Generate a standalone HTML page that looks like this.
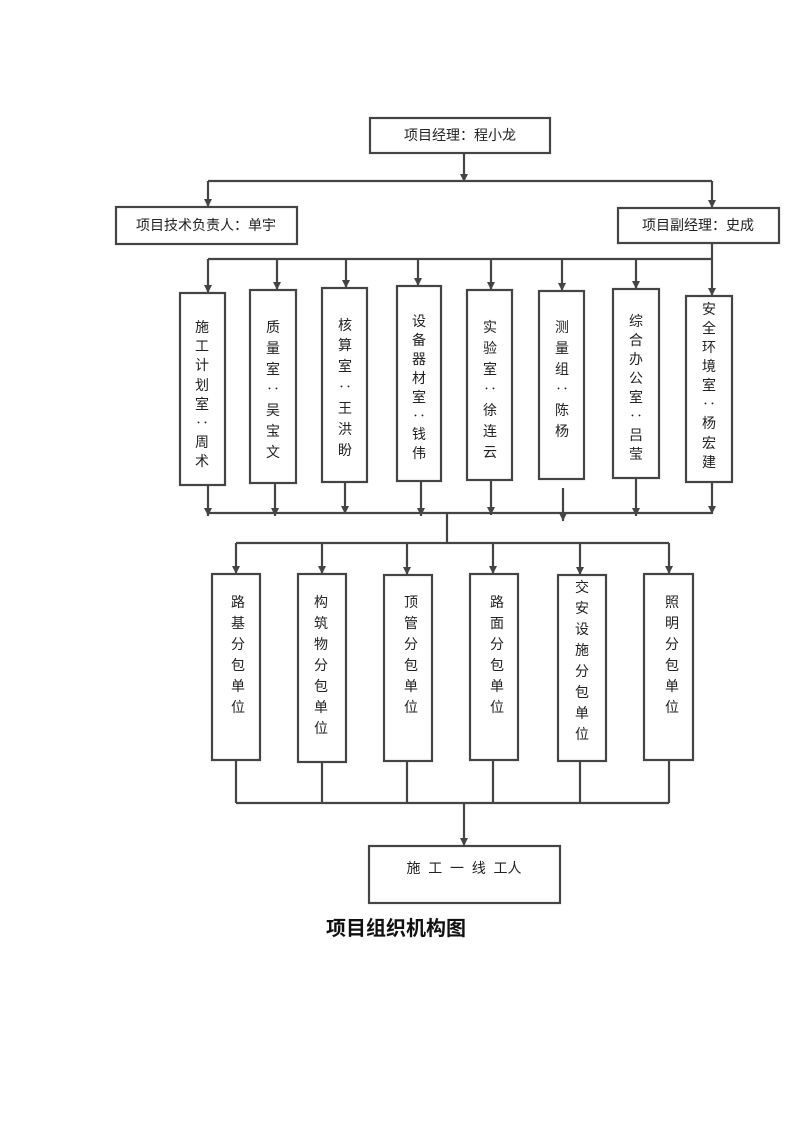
<!DOCTYPE html>
<html><head><meta charset="utf-8"><style>
html,body{margin:0;padding:0;background:#fff}
svg{display:block}
text{font-family:"Liberation Sans","Noto Sans CJK SC",sans-serif;font-size:14px;fill:#222}
.v{text-anchor:middle;dominant-baseline:middle}
</style></head><body>
<svg width="793" height="1122" viewBox="0 0 793 1122">
<defs><marker id="a" markerWidth="9" markerHeight="9" refX="8" refY="4" orient="auto" markerUnits="userSpaceOnUse"><path d="M0,0 L8,4 L0,8 Z" fill="#444"/></marker></defs>
<g stroke="#444" stroke-width="2.2" fill="none">
<rect x="370" y="118" width="180" height="35"/>
<rect x="116" y="207" width="181" height="37"/>
<rect x="618" y="208" width="161" height="35"/>
<rect x="180" y="293" width="45" height="192"/>
<rect x="250" y="290" width="46" height="193"/>
<rect x="322" y="288" width="45" height="194"/>
<rect x="397" y="286" width="44" height="195"/>
<rect x="467" y="290" width="45" height="190"/>
<rect x="539" y="291" width="45" height="188"/>
<rect x="613" y="289" width="46" height="189"/>
<rect x="686" y="296" width="46" height="186"/>
<rect x="212" y="574" width="48" height="186"/>
<rect x="298" y="574" width="48" height="188"/>
<rect x="384" y="575" width="48" height="186"/>
<rect x="470" y="574" width="48" height="186"/>
<rect x="558" y="575" width="48" height="186"/>
<rect x="644" y="574" width="49" height="186"/>
<rect x="369" y="846" width="191" height="57"/>
<path d="M208,181 H712 M208,259 H712 M208,513 H712 M236,543 H669 M236,803 H669"/>
<path d="M447,513 V543"/>
<path d="M236,760V803 M322,762V803 M407,761V803 M493,760V803 M580,761V803 M669,760V803"/>
</g>
<g stroke="#444" stroke-width="2.2" marker-end="url(#a)">
<path d="M464,153 V182"/>
<path d="M208,181 V207"/><path d="M712,181 V208"/>
<path d="M208,259 V293"/><path d="M277,259 V290"/><path d="M346,259 V288"/><path d="M418,259 V286"/>
<path d="M491,259 V290"/><path d="M562,259 V291"/><path d="M636,259 V289"/><path d="M712,244 V296"/>
<path d="M208,485 V516"/><path d="M275,483 V516"/><path d="M345,482 V514"/><path d="M421,481 V516"/>
<path d="M491,480 V515"/><path d="M563,488 V521"/><path d="M636,478 V516"/><path d="M712,482 V514"/>
<path d="M236,543 V574"/><path d="M322,543 V574"/><path d="M407,543 V575"/><path d="M493,543 V574"/><path d="M580,543 V575"/><path d="M669,543 V574"/>
<path d="M464,803 V846"/>
</g>
<text x="460" y="140" text-anchor="middle">项目经理：程小龙</text>
<text x="206" y="230" text-anchor="middle">项目技术负责人：单宇</text>
<text x="698" y="230" text-anchor="middle">项目副经理：史成</text>
<text x="464" y="873" text-anchor="middle" style="font-size:14px" xml:space="preserve">施  工  一  线  工人</text>
<text x="396" y="935" text-anchor="middle" style="font-size:20px;font-weight:bold;fill:#111">项目组织机构图</text>
<g class="v">
<text class="v" x="202"><tspan x="202" y="328">施</tspan><tspan x="202" y="347">工</tspan><tspan x="202" y="366">计</tspan><tspan x="202" y="386">划</tspan><tspan x="202" y="405">室</tspan><tspan x="202" y="424">‥</tspan><tspan x="202" y="443">周</tspan><tspan x="202" y="462">术</tspan></text>
<text class="v"><tspan x="273" y="328">质</tspan><tspan x="273" y="349">量</tspan><tspan x="273" y="370">室</tspan><tspan x="273" y="390">‥</tspan><tspan x="273" y="411">吴</tspan><tspan x="273" y="432">宝</tspan><tspan x="273" y="453">文</tspan></text>
<text class="v"><tspan x="345" y="326">核</tspan><tspan x="345" y="346">算</tspan><tspan x="345" y="367">室</tspan><tspan x="345" y="388">‥</tspan><tspan x="345" y="409">王</tspan><tspan x="345" y="430">洪</tspan><tspan x="345" y="451">盼</tspan></text>
<text class="v"><tspan x="419" y="322">设</tspan><tspan x="419" y="341">备</tspan><tspan x="419" y="360">器</tspan><tspan x="419" y="379">材</tspan><tspan x="419" y="398">室</tspan><tspan x="419" y="417">‥</tspan><tspan x="419" y="435">钱</tspan><tspan x="419" y="454">伟</tspan></text>
<text class="v"><tspan x="490" y="328">实</tspan><tspan x="490" y="349">验</tspan><tspan x="490" y="370">室</tspan><tspan x="490" y="390">‥</tspan><tspan x="490" y="411">徐</tspan><tspan x="490" y="432">连</tspan><tspan x="490" y="453">云</tspan></text>
<text class="v"><tspan x="562" y="328">测</tspan><tspan x="562" y="349">量</tspan><tspan x="562" y="370">组</tspan><tspan x="562" y="390">‥</tspan><tspan x="562" y="411">陈</tspan><tspan x="562" y="432">杨</tspan></text>
<text class="v"><tspan x="636" y="322">综</tspan><tspan x="636" y="341">合</tspan><tspan x="636" y="360">办</tspan><tspan x="636" y="379">公</tspan><tspan x="636" y="398">室</tspan><tspan x="636" y="417">‥</tspan><tspan x="636" y="436">吕</tspan><tspan x="636" y="455">莹</tspan></text>
<text class="v"><tspan x="709" y="310">安</tspan><tspan x="709" y="329">全</tspan><tspan x="709" y="348">环</tspan><tspan x="709" y="367">境</tspan><tspan x="709" y="386">室</tspan><tspan x="709" y="405">‥</tspan><tspan x="709" y="424">杨</tspan><tspan x="709" y="444">宏</tspan><tspan x="709" y="463">建</tspan></text>
<text class="v"><tspan x="238" y="603">路</tspan><tspan x="238" y="624">基</tspan><tspan x="238" y="645">分</tspan><tspan x="238" y="666">包</tspan><tspan x="238" y="687">单</tspan><tspan x="238" y="708">位</tspan></text>
<text class="v"><tspan x="321" y="603">构</tspan><tspan x="321" y="624">筑</tspan><tspan x="321" y="645">物</tspan><tspan x="321" y="666">分</tspan><tspan x="321" y="687">包</tspan><tspan x="321" y="708">单</tspan><tspan x="321" y="729">位</tspan></text>
<text class="v"><tspan x="411" y="603">顶</tspan><tspan x="411" y="624">管</tspan><tspan x="411" y="645">分</tspan><tspan x="411" y="666">包</tspan><tspan x="411" y="687">单</tspan><tspan x="411" y="708">位</tspan></text>
<text class="v"><tspan x="497" y="603">路</tspan><tspan x="497" y="624">面</tspan><tspan x="497" y="645">分</tspan><tspan x="497" y="666">包</tspan><tspan x="497" y="687">单</tspan><tspan x="497" y="708">位</tspan></text>
<text class="v"><tspan x="582" y="588">交</tspan><tspan x="582" y="609">安</tspan><tspan x="582" y="630">设</tspan><tspan x="582" y="651">施</tspan><tspan x="582" y="672">分</tspan><tspan x="582" y="693">包</tspan><tspan x="582" y="714">单</tspan><tspan x="582" y="735">位</tspan></text>
<text class="v"><tspan x="672" y="603">照</tspan><tspan x="672" y="624">明</tspan><tspan x="672" y="645">分</tspan><tspan x="672" y="666">包</tspan><tspan x="672" y="687">单</tspan><tspan x="672" y="708">位</tspan></text>
</g>
</svg>
</body></html>
